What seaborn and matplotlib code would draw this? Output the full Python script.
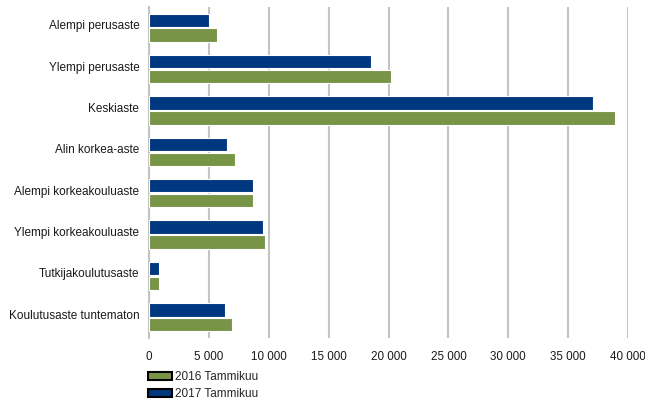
import pandas as pd
import matplotlib
matplotlib.use("Agg")
import matplotlib.pyplot as plt
import matplotlib.transforms as mtransforms
import seaborn as sns
from matplotlib.patches import Patch
from matplotlib.ticker import FuncFormatter, MultipleLocator

categories = [
    "Alempi perusaste",
    "Ylempi perusaste",
    "Keskiaste",
    "Alin korkea-aste",
    "Alempi korkeakouluaste",
    "Ylempi korkeakouluaste",
    "Tutkijakoulutusaste",
    "Koulutusaste tuntematon",
]
values_2016 = [5650, 20200, 38950, 7150, 8700, 9650, 850, 6900]
values_2017 = [4990, 18500, 37100, 6550, 8700, 9500, 850, 6350]
series = ["2016 Tammikuu", "2017 Tammikuu"]

df = pd.DataFrame({
    "luokka": categories * 2,
    "arvo": values_2016 + values_2017,
    "sarja": [series[0]] * len(categories) + [series[1]] * len(categories),
})

colors = {"2016 Tammikuu": "#789446", "2017 Tammikuu": "#00387f"}

sns.set_style("white")
plt.rcParams["font.family"] = ["Liberation Sans", "DejaVu Sans"]
plt.rcParams["font.size"] = 8.5

fig = plt.figure(figsize=(6.45, 4.03), dpi=100)
ax = fig.add_axes([149 / 645, 1 - 338 / 403, (628 - 149) / 645, (338 - 7) / 403])

sns.barplot(data=df, x="arvo", y="luokka", hue="sarja",
            hue_order=[series[1], series[0]], palette=colors,
            orient="h", width=0.72, gap=0.1, ax=ax, legend=False,
            saturation=1, zorder=3, edgecolor="white", linewidth=0.8)

ax.set_xlim(0, 40000)
ax.set_ylim(len(categories) - 0.5, -0.5)
ax.xaxis.set_major_locator(MultipleLocator(5000))
ax.xaxis.set_major_formatter(FuncFormatter(lambda v, p: f"{int(v):,}".replace(",", " ")))
ax.grid(axis="x", color="#c4c4c4", linewidth=1.5, zorder=0)
ax.set_axisbelow(True)
for s in ["top", "right", "bottom"]:
    ax.spines[s].set_visible(False)
ax.spines["left"].set_color("#c4c4c4")
ax.spines["left"].set_linewidth(1.5)
ax.tick_params(axis="x", length=0, pad=9, labelsize=8.4, colors="#1a1a1a")
ax.tick_params(axis="y", length=0, pad=7, labelsize=8.5, colors="#1a1a1a")
ax.set_xlabel("")
ax.set_ylabel("")

# category labels sit a little above the bar pair centre
shift = mtransforms.ScaledTranslation(0, 3 / 100, fig.dpi_scale_trans)
for lab in ax.get_yticklabels():
    lab.set_transform(lab.get_transform() + shift)

handles = [Patch(facecolor=colors[s], edgecolor="black", linewidth=1.5, label=s) for s in series]
fig.legend(handles=handles, loc="upper left", bbox_to_anchor=(148 / 645, 1 - 371 / 403),
           frameon=False, borderpad=0, borderaxespad=0, handlelength=2.0,
           handleheight=0.7, handletextpad=0.3, labelspacing=0.42, fontsize=8.5)

fig.savefig("out.png", dpi=100)
